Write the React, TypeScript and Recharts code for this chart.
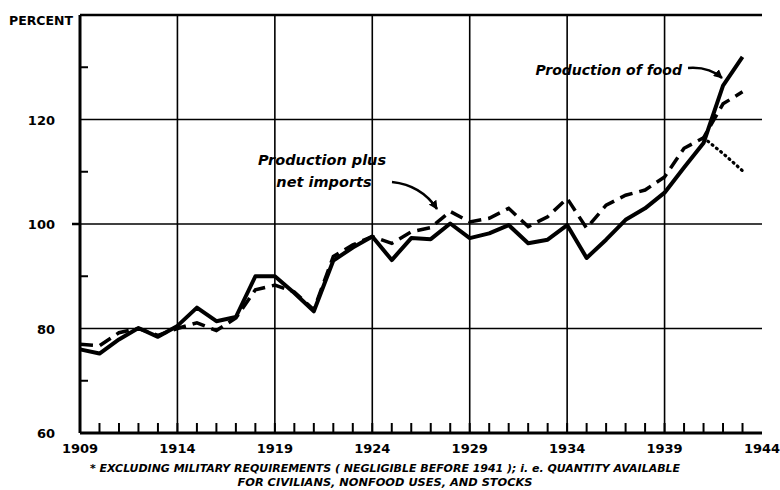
import { LineChart, Line, XAxis, YAxis, ReferenceLine } from "recharts";

const years = [
  1909, 1910, 1911, 1912, 1913, 1914, 1915, 1916, 1917, 1918, 1919, 1920,
  1921, 1922, 1923, 1924, 1925, 1926, 1927, 1928, 1929, 1930, 1931, 1932,
  1933, 1934, 1935, 1936, 1937, 1938, 1939, 1940, 1941, 1942, 1943,
];

// Production of food (solid)
const food = [
  76.0, 75.2, 77.9, 80.1, 78.4, 80.5, 84.0, 81.4, 82.2, 90.0, 90.0, 86.8,
  83.3, 93.0, 95.5, 97.6, 93.1, 97.3, 97.1, 100.1, 97.3, 98.2, 99.8, 96.3,
  97.0, 99.8, 93.5, 97.0, 100.8, 103.0, 106.0, 110.8, 115.5, 126.5, 132.0,
];

// Production plus net imports (dashed)
const plusImports = [
  77.0, 76.7, 79.2, 80.0, 78.7, 80.0, 81.1, 79.6, 82.0, 87.4, 88.3, 87.0,
  83.6, 93.8, 96.0, 97.6, 96.3, 98.5, 99.3, 102.4, 100.4, 101.1, 103.0, 99.5,
  101.4, 104.9, 99.2, 103.6, 105.5, 106.5, 109.0, 114.5, 116.5, 123.0, 125.3,
];

// excluding military requirements (dotted)
const civilianYears = [1941, 1942, 1943];
const civilian = [116.5, 113.5, 110.2];

const xTicks = [
  1909, 1910, 1911, 1912, 1913, 1914, 1915, 1916, 1917, 1918, 1919, 1920,
  1921, 1922, 1923, 1924, 1925, 1926, 1927, 1928, 1929, 1930, 1931, 1932,
  1933, 1934, 1935, 1936, 1937, 1938, 1939, 1940, 1941, 1942, 1943, 1944,
];
const xLabels = [1909, 1914, 1919, 1924, 1929, 1934, 1939, 1944];
const yTicks = [60, 70, 80, 90, 100, 110, 120, 130, 140];
const yLabels = [60, 80, 100, 120];
const gridYears = [1914, 1919, 1924, 1929, 1934, 1939];
const gridValues = [80, 100, 120];

const footnote1 =
  "* EXCLUDING MILITARY REQUIREMENTS ( NEGLIGIBLE BEFORE 1941 );  i. e. QUANTITY AVAILABLE";
const footnote2 = "FOR CIVILIANS, NONFOOD USES, AND STOCKS";

const data = years.map((year, i) => {
  const c = civilianYears.indexOf(year);
  return {
    year,
    food: food[i],
    imports: plusImports[i],
    civilian: c >= 0 ? civilian[c] : null,
  };
});

const labelFont = {
  fontFamily: "'DejaVu Sans', sans-serif",
  fontWeight: 700,
  fontSize: 13,
  fill: "#000",
};

function XTick(props: any) {
  const { x, y, payload } = props;
  const v = payload.value;
  return (
    <g>
      {v > 1909 && v < 1944 && (
        <line x1={x} x2={x} y1={y} y2={y - 10} stroke="#000" strokeWidth={2} />
      )}
      {xLabels.includes(v) && (
        <text x={x} y={y + 20} textAnchor="middle" {...labelFont}>
          {v}
        </text>
      )}
    </g>
  );
}

function YTick(props: any) {
  const { x, y, payload } = props;
  const v = payload.value;
  if (v === 140) {
    return (
      <text x={x - 7} y={y + 10} textAnchor="end" {...labelFont} fontSize={12.5}>
        PERCENT
      </text>
    );
  }
  if (yLabels.includes(v)) {
    return (
      <g>
        {v === 100 && (
          <line x1={x - 8} x2={x} y1={y} y2={y} stroke="#000" strokeWidth={2.5} />
        )}
        <text x={x - 25} y={y + 5} textAnchor="end" {...labelFont}>
          {v}
        </text>
      </g>
    );
  }
  return <line x1={x} x2={x + 8} y1={y} y2={y} stroke="#000" strokeWidth={2} />;
}

function RightTick(props: any) {
  const { x, y, payload } = props;
  const v = payload.value;
  if (yLabels.includes(v) || v === 140) return <g />;
  return <line x1={x} x2={x - 8} y1={y} y2={y} stroke="#000" strokeWidth={2} />;
}

const noteFont = {
  fontFamily: "'DejaVu Sans', sans-serif",
  fontWeight: 700,
  fontStyle: "italic",
  fill: "#000",
};

export default function App() {
  return (
    <div
      style={{
        position: "absolute",
        left: 0,
        top: 0,
        width: 780,
        height: 490,
        background: "#fff",
      }}
    >
      <LineChart
        width={780}
        height={490}
        data={data}
        margin={{ top: 15, right: 18, bottom: 0, left: 0 }}
      >
        <XAxis
          dataKey="year"
          type="number"
          domain={[1909, 1944]}
          ticks={xTicks}
          interval={0}
          height={57}
          tickSize={0}
          tickMargin={0}
          tickLine={false}
          tick={<XTick />}
          axisLine={{ stroke: "#000", strokeWidth: 3 }}
        />
        <YAxis
          type="number"
          domain={[60, 140]}
          ticks={yTicks}
          interval={0}
          width={80}
          tickSize={0}
          tickMargin={0}
          tickLine={false}
          tick={<YTick />}
          axisLine={{ stroke: "#000", strokeWidth: 3 }}
        />
        <YAxis
          yAxisId="right"
          orientation="right"
          type="number"
          domain={[60, 140]}
          ticks={yTicks}
          interval={0}
          width={0}
          tickSize={0}
          tickMargin={0}
          tickLine={false}
          tick={<RightTick />}
          axisLine={{ stroke: "#000", strokeWidth: 2 }}
        />
        {gridYears.map((v) => (
          <ReferenceLine key={"x" + v} x={v} stroke="#000" strokeWidth={1.6} />
        ))}
        {gridValues.map((v) => (
          <ReferenceLine key={"y" + v} y={v} stroke="#000" strokeWidth={1.6} />
        ))}
        <ReferenceLine y={140} stroke="#000" strokeWidth={2.5} />
        <Line
          type="linear"
          dataKey="imports"
          stroke="#000"
          strokeWidth={3.5}
          strokeDasharray="13 7"
          dot={false}
          isAnimationActive={false}
        />
        <Line
          type="linear"
          dataKey="civilian"
          stroke="#000"
          strokeWidth={3.2}
          strokeDasharray="1 4.5"
          strokeLinecap="round"
          dot={false}
          isAnimationActive={false}
        />
        <Line
          type="linear"
          dataKey="food"
          stroke="#000"
          strokeWidth={4}
          strokeLinejoin="round"
          dot={false}
          isAnimationActive={false}
        />
      </LineChart>
      <svg
        width={780}
        height={490}
        style={{ position: "absolute", left: 0, top: 0, pointerEvents: "none" }}
      >
        <defs>
          <marker
            id="head"
            viewBox="0 0 10 10"
            refX="9"
            refY="5"
            markerWidth="9"
            markerHeight="9"
            markerUnits="userSpaceOnUse"
            orient="auto"
          >
            <path d="M0,0 L10,5 L0,10 z" fill="#000" />
          </marker>
        </defs>
        <text x={682} y={75} textAnchor="end" fontSize={14} {...noteFont}>
          Production of food
        </text>
        <path
          d="M688,68 C701,67 713,70 722,78"
          fill="none"
          stroke="#000"
          strokeWidth={2.5}
          markerEnd="url(#head)"
        />
        <text x={322} y={165} textAnchor="middle" fontSize={14.5} {...noteFont}>
          Production plus
        </text>
        <text x={324} y={187} textAnchor="middle" fontSize={14.5} {...noteFont}>
          net imports
        </text>
        <path
          d="M392,182 C410,184 426,192 437,209"
          fill="none"
          stroke="#000"
          strokeWidth={2.5}
          markerEnd="url(#head)"
        />
        <text
          x={385}
          y={472}
          textAnchor="middle"
          fontSize={10}
          textLength={590}
          lengthAdjust="spacingAndGlyphs"
          {...noteFont}
        >
          {footnote1}
        </text>
        <text
          x={385}
          y={486}
          textAnchor="middle"
          fontSize={10}
          textLength={295}
          lengthAdjust="spacingAndGlyphs"
          {...noteFont}
        >
          {footnote2}
        </text>
      </svg>
    </div>
  );
}
